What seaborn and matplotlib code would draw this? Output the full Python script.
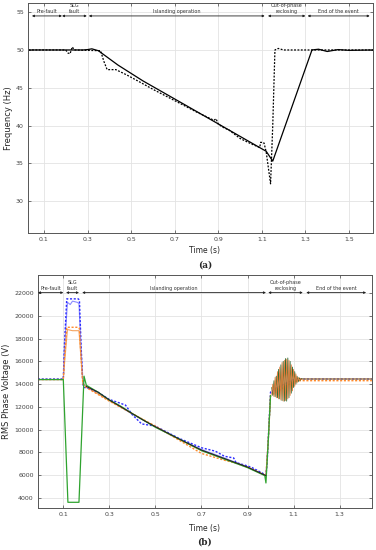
import seaborn as sns
import pandas as pd
import matplotlib.pyplot as plt

# ---- panel (a): frequency ----
freq_sim_t = [0.03, 0.28, 0.30, 0.32, 0.35, 0.44, 0.555, 0.75, 0.95, 1.12, 1.15, 1.33, 1.36, 1.40, 1.45, 1.50, 1.61]
freq_sim_v = [50.0, 50.0, 50.05, 50.15, 49.9, 48.0, 45.9, 42.7, 39.4, 36.6, 35.3, 50.0, 50.1, 49.8, 50.05, 49.95, 50.0]

freq_meas_t = [0.03, 0.20, 0.21, 0.22, 0.23, 0.24, 0.36, 0.375, 0.39, 0.43, 0.48, 0.55, 0.60, 0.70, 0.80, 0.88,
               0.89, 0.90, 0.92, 0.95, 1.00, 1.05, 1.09, 1.095, 1.11, 1.12, 1.14, 1.15, 1.16, 1.175, 1.20, 1.61]
freq_meas_v = [50.0, 50.0, 49.6, 49.5, 50.4, 50.0, 49.9, 48.5, 47.4, 47.4, 46.7, 45.6, 44.8, 43.3, 41.8, 40.7,
               40.9, 40.2, 39.8, 39.4, 38.3, 37.6, 37.1, 37.8, 37.7, 36.5, 32.3, 40.0, 50.0, 50.2, 50.0, 50.0]

# ---- panel (b): RMS phase voltage ----
decl_t = [0.20, 0.25, 0.30, 0.35, 0.40, 0.45, 0.50, 0.60, 0.70, 0.80, 0.90, 0.98]
decl_v = [13800, 13300, 12600, 12000, 11400, 10800, 10250, 9200, 8200, 7450, 6700, 5950]

blue_dash_t = [-0.01, 0.10, 0.105, 0.115, 0.165, 0.170, 0.178, 0.185, 0.19, 0.20, 0.25, 0.30, 0.35, 0.37, 0.40, 0.44,
               0.50, 0.60, 0.70, 0.76, 0.80, 0.84, 0.85, 0.90, 0.92, 0.98, 0.985, 1.00, 1.02, 1.05, 1.08, 1.10, 1.12, 1.44]
blue_dash_v = [14450, 14450, 17500, 21500, 21500, 21400, 17000, 14000, 13700, 13700, 13300, 12650, 12300, 12150,
               11300, 10500, 10300, 9250, 8400, 8100, 7650, 7500, 7100, 6800, 6650, 6000, 7000, 13300, 13600, 13900,
               14200, 14400, 14450, 14450]

blue_solid_t = [-0.01, 0.10, 0.105, 0.118, 0.13, 0.14, 0.16, 0.168, 0.176, 0.185, 0.20, 0.30, 0.40, 0.50, 0.60,
                0.70, 0.80, 0.90, 0.98, 0.99, 1.00]
blue_solid_v = [14400, 14400, 17000, 21200, 21000, 21300, 21200, 21100, 17500, 14100, 13750, 12600, 11350, 10250,
                9200, 8250, 7500, 6700, 5950, 9000, 13000]

orange_dash_t = [-0.01, 0.10, 0.105, 0.115, 0.165, 0.170, 0.178, 0.185, 0.20, 0.30, 0.40, 0.50, 0.60, 0.70, 0.80,
                 0.84, 0.90, 0.98, 0.99, 1.00, 1.05, 1.10, 1.12, 1.44]
orange_dash_v = [14400, 14400, 16300, 19000, 19000, 18900, 16000, 14000, 13700, 12500, 11400, 10300, 9100, 7900,
                 7300, 7100, 6700, 5950, 9000, 13000, 13600, 14200, 14300, 14300]

orange_solid_t = [-0.01, 0.10, 0.106, 0.118, 0.14, 0.168, 0.176, 0.185, 0.20, 0.30, 0.40, 0.50, 0.60, 0.70, 0.80,
                  0.90, 0.98, 0.99, 1.00]
orange_solid_v = [14400, 14400, 16000, 18800, 18700, 18700, 16500, 14000, 13750, 12550, 11400, 10250, 9150, 8150,
                  7400, 6700, 5950, 9000, 13000]

green_t = [-0.01, 0.10, 0.12, 0.168, 0.19, 0.20, 0.25, 0.30, 0.35, 0.40, 0.50, 0.60, 0.70, 0.80, 0.90, 0.975, 0.98,
           0.99, 1.00]
green_v = [14400, 14400, 3600, 3600, 14700, 13900, 13300, 12600, 12050, 11400, 10200, 9200, 8150, 7400, 6650,
           5950, 5300, 9000, 13000]

# oscillation after out-of-phase reclosing
osc_t = [1.005, 1.010, 1.015, 1.020, 1.025, 1.030, 1.035, 1.040, 1.045, 1.050, 1.055, 1.060, 1.065, 1.070,
         1.075, 1.080, 1.085, 1.090, 1.095, 1.100, 1.105, 1.110, 1.115, 1.120, 1.125, 1.130, 1.135, 1.140, 1.44]
osc_green_v = [13700, 13000, 14300, 12900, 14700, 12800, 15300, 12700, 15700, 12550, 16000, 12500, 16250, 12500,
               16300, 12800, 16000, 13200, 15500, 13700, 15100, 14000, 14700, 14200, 14550, 14350, 14500, 14450,
               14450]
osc_orange_v = [13100, 14000, 12900, 14600, 12800, 15100, 12700, 15500, 12600, 15900, 12500, 16100, 12550, 16200,
                12700, 16100, 13000, 15700, 13400, 15300, 13800, 14900, 14100, 14600, 14300, 14500, 14400, 14450,
                14450]

labels_a = [("Pre-fault", 0.045, 0.183), ("SLG\nfault", 0.183, 0.297), ("Islanding operation", 0.306, 1.113),
            ("Out-of-phase\nreclosing", 1.128, 1.30), ("End of the event", 1.31, 1.595)]
labels_b = [("Pre-fault", -0.01, 0.10), ("SLG\nfault", 0.112, 0.168), ("Islanding operation", 0.182, 0.98),
            ("Out-of-phase\nreclosing", 0.99, 1.14), ("End of the event", 1.155, 1.415)]

sns.set_style('whitegrid', {'grid.color': '#e3e3e3', 'axes.edgecolor': '#555555',
                            'xtick.bottom': True, 'ytick.left': True})
plt.rcParams['font.family'] = ['DejaVu Sans']

fig = plt.figure(figsize=(3.76, 5.5), dpi=100)
ax1 = fig.add_axes([0.0745, 0.5764, 0.9175, 0.418])
ax2 = fig.add_axes([0.101, 0.0764, 0.888, 0.4236])

sns.lineplot(x=freq_sim_t, y=freq_sim_v, ax=ax1, color='black', lw=0.9, estimator=None)
sns.lineplot(x=freq_meas_t, y=freq_meas_v, ax=ax1, color='black', lw=0.9, estimator=None,
             linestyle=(0, (1.5, 1.2)))
ax1.set_xlim(0.027, 1.61)
ax1.set_ylim(25.8, 56.2)
ax1.set_xticks([0.1, 0.3, 0.5, 0.7, 0.9, 1.1, 1.3, 1.5])
ax1.set_yticks([30, 35, 40, 45, 50, 55])
ax1.set_ylabel('Frequency (Hz)', fontsize=6, labelpad=2)

lines_b = [
    (blue_solid_t, blue_solid_v, '#8c8cff', '-', 0.8),
    (orange_solid_t, orange_solid_v, '#f4a460', '-', 0.8),
    (blue_dash_t, blue_dash_v, '#2b2bff', (0, (1.5, 1.2)), 1.0),
    (orange_dash_t, orange_dash_v, '#ff8a2a', (0, (1.5, 1.2)), 1.0),
    (green_t, green_v, '#2fa32f', '-', 0.9),
    (decl_t, decl_v, '#222222', '-', 0.7),
    (osc_t, osc_green_v, '#2e6b32', '-', 0.6),
    (osc_t, osc_orange_v, '#e07b39', '-', 0.6),
]
for t, v, c, ls, lw in lines_b:
    sns.lineplot(x=t, y=v, ax=ax2, color=c, linestyle=ls, lw=lw, estimator=None)
ax2.set_xlim(-0.01, 1.44)
ax2.set_ylim(3100, 23600)
ax2.set_xticks([0.1, 0.3, 0.5, 0.7, 0.9, 1.1, 1.3])
ax2.set_yticks(range(4000, 22001, 2000))
ax2.set_ylabel('RMS Phase Voltage (V)', fontsize=6, labelpad=2)

for ax, labels, yarr, yscale in [(ax1, labels_a, 54.5, 30.4), (ax2, labels_b, 22050, 20500)]:
    ax.grid(True, lw=0.6)
    ax.tick_params(direction='in', length=2, width=0.5, labelsize=4.5, pad=3,
                   top=True, right=True, colors='#444444')
    for s in ax.spines.values():
        s.set_linewidth(0.7)
    for name, x0, x1 in labels:
        ax.annotate('', xy=(x0, yarr), xytext=(x1, yarr),
                    arrowprops=dict(arrowstyle='<|-|>', lw=0.6, color='#222222',
                                    mutation_scale=3, shrinkA=0, shrinkB=0))
        ax.text((x0 + x1) / 2, yarr + yscale * 0.008, name, fontsize=3.5, ha='center', va='bottom',
                color='#333333', linespacing=1.25, clip_on=True)
    ax.set_xlabel('')

fig.text(0.545, 0.545, 'Time (s)', fontsize=5.5, ha='center', va='center')
fig.text(0.545, 0.518, '(a)', fontsize=6.5, ha='center', va='center', family='DejaVu Serif', weight='bold')
fig.text(0.545, 0.04, 'Time (s)', fontsize=5.5, ha='center', va='center')
fig.text(0.545, 0.0145, '(b)', fontsize=6.5, ha='center', va='center', family='DejaVu Serif', weight='bold')

plt.savefig('out.png', dpi=100)
